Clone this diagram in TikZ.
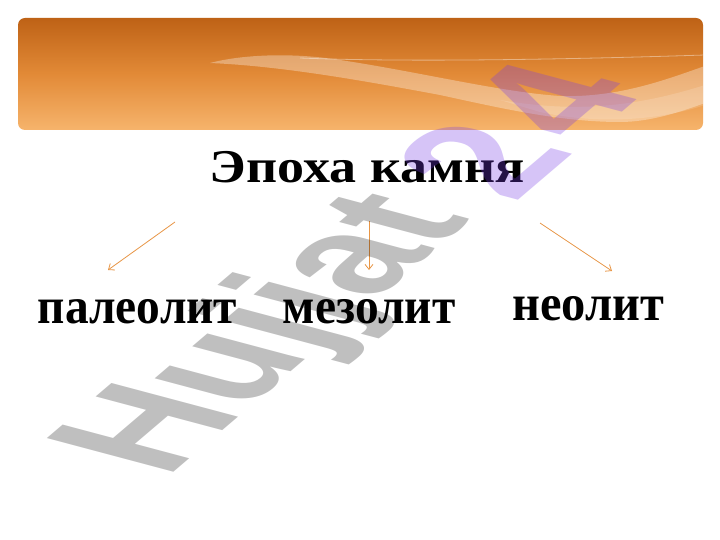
\documentclass[tikz,border=0pt]{standalone}
\usepackage{fontspec}
\usepackage{graphicx}
\setmainfont{Liberation Serif}
\newfontfamily\wmfont{Liberation Sans}
\usetikzlibrary{arrows.meta}
\definecolor{bantop}{RGB}{190,98,22}
\definecolor{banmid}{RGB}{226,138,55}
\definecolor{banbot}{RGB}{246,180,108}
\definecolor{arrcol}{RGB}{232,150,70}
\definecolor{wmpurple}{RGB}{120,60,230}
\tikzset{
 ttl/.style={font=\fontsize{47}{47}\selectfont\bfseries, inner sep=0pt, anchor=base},
 lbl/.style={font=\fontsize{51}{51}\selectfont\bfseries, inner sep=0pt, anchor=base},
 conn/.style={draw=arrcol, line width=0.8pt, -{Straight Barb[length=5pt,width=8pt]}},
 wm/.style={inner sep=0pt, anchor=base west, transform shape},
 ribbon/.style={fill=white, fill opacity=0.32},
}
\begin{document}
\begin{tikzpicture}[x=1pt,y=-1pt]
\useasboundingbox (0,0) rectangle (720,540);
\fill[white] (0,0) rectangle (720,540);
% banner
\path[top color=bantop, bottom color=banbot, middle color=banmid, rounded corners=7pt] (18,18) rectangle (703,130);
\begin{scope}
\clip[rounded corners=7pt] (18,18) rectangle (703,130);
\path[ribbon] (210,63) .. controls (240,55) and (290,52) .. (340,60)
  .. controls (420,72) and (500,92) .. (560,96)
  .. controls (620,98) and (670,78) .. (705,66) -- (705,103)
  .. controls (680,112) and (650,122) .. (620,122)
  .. controls (560,122) and (500,108) .. (440,95)
  .. controls (360,80) and (280,66) .. (210,63) -- cycle;
\path[fill=white, fill opacity=0.15] (500,100) .. controls (560,110) and (620,112) .. (705,85) -- (705,105) .. controls (660,120) and (600,125) .. (540,112) -- cycle;
\draw[white, draw opacity=0.4, line width=0.8pt] (300,58) .. controls (400,62) and (550,60) .. (705,55);
\end{scope}
% texts
\node[ttl] (t) at (367.4,183) {\scalebox{1.15}[1]{Эпоха камня}};
\node[lbl] (p) at (137.5,323.3) {\scalebox{0.93}[1]{палеолит}};
\node[lbl] (m) at (369.2,323.3) {\scalebox{0.93}[1]{мезолит}};
\node[lbl] (n) at (588.3,320) {\scalebox{0.95}[1]{неолит}};
% arrows
\coordinate (a1) at (175,222); \coordinate (b1) at (108,270);
\coordinate (a2) at (369,221); \coordinate (b2) at (369,270);
\coordinate (a3) at (540,223); \coordinate (b3) at (612,271);
\draw[conn] (a1) -- (b1);
\draw[conn] (a2) -- (b2);
\draw[conn] (a3) -- (b3);
% watermark
\begin{scope}[shift={(166.2,478.5)}, cm={1.10,0.937,-1.84,0.49,(0,0)}]
\node[wm, font=\wmfont\fontsize{100}{100}\selectfont\bfseries, text=black, text opacity=0.25] (wm1) at (0,0) {Hujjat};
\end{scope}
\begin{scope}[shift={(514,204)}, cm={1.10,0.937,-1.84,0.49,(0,0)}]
\node[wm, font=\wmfont\fontsize{102}{102}\selectfont\bfseries, text=wmpurple, text opacity=0.3] (wm2) at (0,0) {2\kern8pt 4};
\end{scope}
\end{tikzpicture}
\end{document}
